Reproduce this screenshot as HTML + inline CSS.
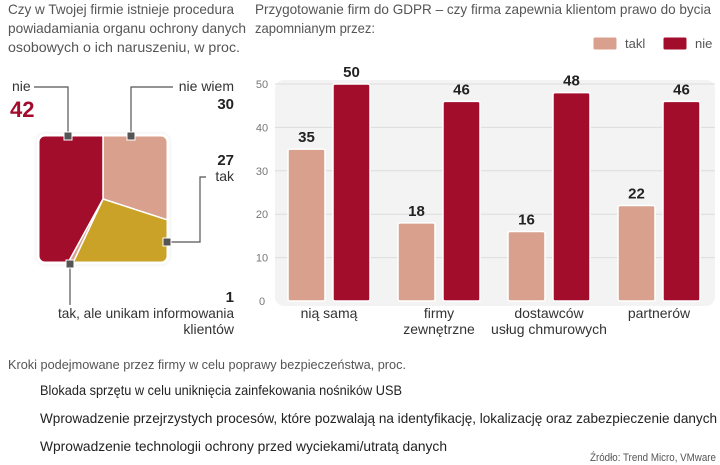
<!DOCTYPE html>
<html><head><meta charset="utf-8"><style>
html,body{margin:0;padding:0;background:#fff;}
svg{display:block;font-family:"Liberation Sans",sans-serif;}
</style></head><body>
<svg id="root" width="720" height="465" viewBox="0 0 720 465" xmlns="http://www.w3.org/2000/svg">
<defs>
  <clipPath id="sq"><rect x="38" y="135" width="130" height="128" rx="7"/></clipPath>
  <filter id="sh" x="-10%" y="-10%" width="120%" height="120%"><feDropShadow dx="0" dy="0" stdDeviation="2" flood-color="#000" flood-opacity="0.25"/></filter>
</defs>
<!-- Titles -->
<g fill="#555" font-size="14">
  <text x="8" y="14" textLength="226" lengthAdjust="spacingAndGlyphs">Czy w Twojej firmie istnieje procedura</text>
  <text x="8" y="33" textLength="238" lengthAdjust="spacingAndGlyphs">powiadamiania organu ochrony danych</text>
  <text x="8" y="52" textLength="232" lengthAdjust="spacingAndGlyphs">osobowych o ich naruszeniu, w proc.</text>
</g>
<g fill="#555" font-size="14">
  <text x="255" y="14" textLength="456" lengthAdjust="spacingAndGlyphs">Przygotowanie firm do GDPR – czy firma zapewnia klientom prawo do bycia</text>
  <text x="255" y="33" textLength="120" lengthAdjust="spacingAndGlyphs">zapomnianym przez:</text>
</g>
<!-- Pie -->
<g id="pie"></g>
<!-- Bar chart -->
<g id="bars"></g>
<!-- Legend -->
<g>
  <rect x="593" y="37" width="24" height="13" rx="2" fill="#d9a08d" stroke="#fff"/>
  <text x="625" y="48" font-size="13" fill="#555">takl</text>
  <rect x="663" y="37" width="24" height="13" rx="2" fill="#a20d2c" stroke="#fff"/>
  <text x="695" y="48" font-size="13" fill="#555">nie</text>
</g>
<!-- Bottom list -->
<g>
  <text x="8" y="369" font-size="13" fill="#555" textLength="398" lengthAdjust="spacingAndGlyphs">Kroki podejmowane przez firmy w celu poprawy bezpieczeństwa, proc.</text>
  <text x="40" y="395" font-size="14" fill="#222" textLength="362" lengthAdjust="spacingAndGlyphs">Blokada sprzętu w celu uniknięcia zainfekowania nośników USB</text>
  <text x="40" y="423" font-size="14" fill="#222" textLength="677" lengthAdjust="spacingAndGlyphs">Wprowadzenie przejrzystych procesów, które pozwalają na identyfikację, lokalizację oraz zabezpieczenie danych</text>
  <text x="40" y="451" font-size="14" fill="#222" textLength="407" lengthAdjust="spacingAndGlyphs">Wprowadzenie technologii ochrony przed wyciekami/utratą danych</text>
  <text x="716" y="461" font-size="11" fill="#555" text-anchor="end" textLength="126" lengthAdjust="spacingAndGlyphs">Źródło: Trend Micro, VMware</text>
</g>
</svg>
<script>
const NS='http://www.w3.org/2000/svg';
// ---- pie data ----
const pieLabels=['nie wiem','tak','tak, ale unikam informowania klientów','nie'];
const pieValues=[30,27,1,42];
const pieColors=['#d9a08d','#c9a227','#d9a08d','#a20d2c'];
// ---- bar data ----
const categories=[['nią samą'],['firmy','zewnętrzne'],['dostawców','usług chmurowych'],['partnerów']];
const takValues=[35,18,16,22];
const nieValues=[50,46,48,46];
const yTicks=[0,10,20,30,40,50];

function mk(tag,attrs,parent){const e=document.createElementNS(NS,tag);for(const k in attrs)e.setAttribute(k,attrs[k]);parent.appendChild(e);return e;}

// Pie
const pie=document.getElementById('pie');
const cx=103,cy=199,R=150;
mk('rect',{x:38,y:135,width:130,height:128,rx:7,fill:'#fff',filter:'url(#sh)'},pie);
const clip=mk('g',{'clip-path':'url(#sq)'},pie);
const total=pieValues.reduce((a,b)=>a+b,0);
let acc=0;
pieValues.forEach((v,i)=>{
  const a0=-Math.PI/2+acc/total*2*Math.PI; acc+=v;
  const a1=-Math.PI/2+acc/total*2*Math.PI;
  const large=(a1-a0)>Math.PI?1:0;
  const d=`M${cx},${cy} L${cx+R*Math.cos(a0)},${cy+R*Math.sin(a0)} A${R},${R} 0 ${large} 1 ${cx+R*Math.cos(a1)},${cy+R*Math.sin(a1)} Z`;
  const p=mk('path',{d:d,fill:pieColors[i],stroke:'#fff','stroke-width':1.5},clip);
  
  
});
mk('rect',{x:38,y:135,width:130,height:128,rx:7,fill:'none',stroke:'#fff','stroke-width':3},pie);
// callouts
const lines=[
 {pts:'68,136 68,87 34,87',m:[68,136]},
 {pts:'131,136 131,87 173,87',m:[131,136]},
 {pts:'167,242 200,242 200,177 206,177',m:[167,242]},
 {pts:'70,266 70,305',m:[70,264]}
];
lines.forEach((l,i)=>{
  const pl=mk('polyline',{points:l.pts,fill:'none',stroke:'#555','stroke-width':1.2},pie);
  
  
  const m=mk('rect',{x:l.m[0]-4,y:l.m[1]-4,width:8,height:8,fill:'#555',stroke:'#fff','stroke-width':1},pie);
  
  
});
function txt(x,y,s,attrs,parent,name){const t=mk('text',Object.assign({x:x,y:y},attrs),parent);t.textContent=s;return t;}
txt(12,91,'nie',{'font-size':14,fill:'#333'},pie,'label-nie');
txt(10,117,String(pieValues[3]),{'font-size':22,'font-weight':'bold',fill:'#a20d2c'},pie,'value-nie');
txt(234,91,'nie wiem',{'font-size':14,fill:'#333','text-anchor':'end'},pie,'label-nie-wiem');
txt(234,109,String(pieValues[0]),{'font-size':15,'font-weight':'bold',fill:'#222','text-anchor':'end'},pie,'value-nie-wiem');
txt(234,165,String(pieValues[1]),{'font-size':15,'font-weight':'bold',fill:'#222','text-anchor':'end'},pie,'value-tak');
txt(234,181,'tak',{'font-size':14,fill:'#333','text-anchor':'end'},pie,'label-tak');
txt(234,302,String(pieValues[2]),{'font-size':15,'font-weight':'bold',fill:'#222','text-anchor':'end'},pie,'value-tak-ale');
txt(234,318,'tak, ale unikam informowania',{'font-size':14,fill:'#333','text-anchor':'end',textLength:176,lengthAdjust:'spacingAndGlyphs'},pie,'label-tak-ale-1');
txt(234,334,'klientów',{'font-size':14,fill:'#333','text-anchor':'end'},pie,'label-tak-ale-2');

// Bars
const bars=document.getElementById('bars');
const y0=301,y50=84;
const yS=v=>y0-(v-0)*(y0-y50)/50;
const xC=i=>329+i*110;
mk('rect',{x:275,y:80,width:440,height:226,rx:9,fill:'#f3f3f3'},bars);
yTicks.forEach(t=>{
  if(t>0){const g=mk('line',{x1:275,x2:715,y1:yS(t),y2:yS(t),stroke:'#dcdcdc','stroke-width':1},bars);
  }
  txt(262,yS(t)+4,String(t),{'font-size':11,fill:'#777','text-anchor':'middle'},bars,'y-tick-'+t);
});
categories.forEach((c,i)=>{
  const cxx=xC(i);
  [[takValues[i],'#d9a08d',-41,'tak'],[nieValues[i],'#a20d2c',4,'nie']].forEach(([v,col,off,nm])=>{
    const y=yS(v);
    const r=mk('rect',{x:cxx+off,y:y,width:37,height:y0-y,rx:2,fill:col,stroke:'#fff','stroke-width':1.5},bars);
    
    
    txt(cxx+off+18.5,y-7,String(v),{'font-size':15,'font-weight':'bold',fill:'#222','text-anchor':'middle'},bars,'bar-value-'+nm+'-'+(i+1));
  });
  c.forEach((ln,j)=>txt(cxx,318+j*16,ln,{'font-size':14,fill:'#333','text-anchor':'middle'},bars,'x-label-'+(i+1)+'-'+(j+1)));
});
</script>
</body></html>
